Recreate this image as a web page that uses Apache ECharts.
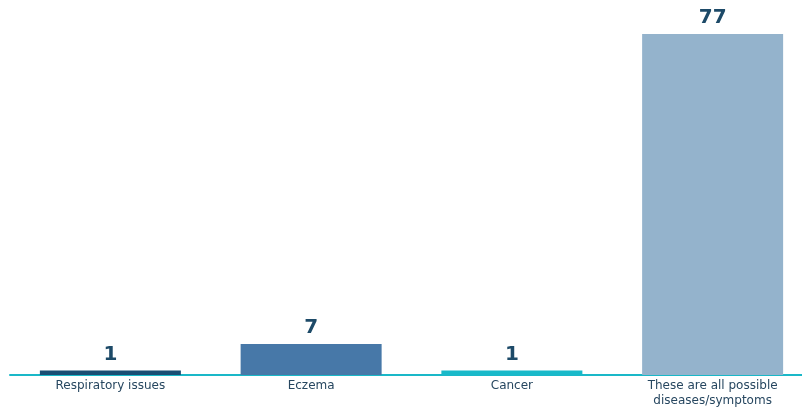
<!DOCTYPE html>
<html><head><meta charset="utf-8">
<script src="https://cdn.jsdelivr.net/npm/echarts@6/dist/echarts.min.js"></script>
<style>html,body{margin:0;padding:0;background:#fff}#c{width:802px;height:411px}</style>
</head><body><div id="c"></div>
<script>
const categories = ['Respiratory issues', 'Eczema', 'Cancer', 'These are all possible\ndiseases/symptoms'];
const values = [1, 7, 1, 77];
const colors = ['#1a4e74', '#4778a8', '#19b9c9', '#94b3cc'];
const chart = echarts.init(document.getElementById('c'));
chart.setOption({
  animation: false,
  grid: {left: 10, right: -11, top: 34, bottom: 36, containLabel: false, outerBoundsMode: 'none'},
  xAxis: {
    type: 'category', data: categories,
    axisLine: {lineStyle: {color: '#1ab8c8', width: 2}},
    axisTick: {show: false},
    axisLabel: {color: '#274760', fontSize: 12, fontFamily: 'DejaVu Sans', margin: 3, lineHeight: 15, interval: 0}
  },
  yAxis: {type: 'value', min: 0, max: 77, show: false, splitLine: {show: false}},
  series: [{
    type: 'bar', barWidth: 141,
    data: values.map((v, i) => ({value: v, itemStyle: {color: colors[i]}})),
    label: {show: true, position: 'top', distance: 6, color: '#1d4a68', fontSize: 20, fontWeight: 'bold', fontFamily: 'DejaVu Sans'}
  }]
});
</script></body></html>
